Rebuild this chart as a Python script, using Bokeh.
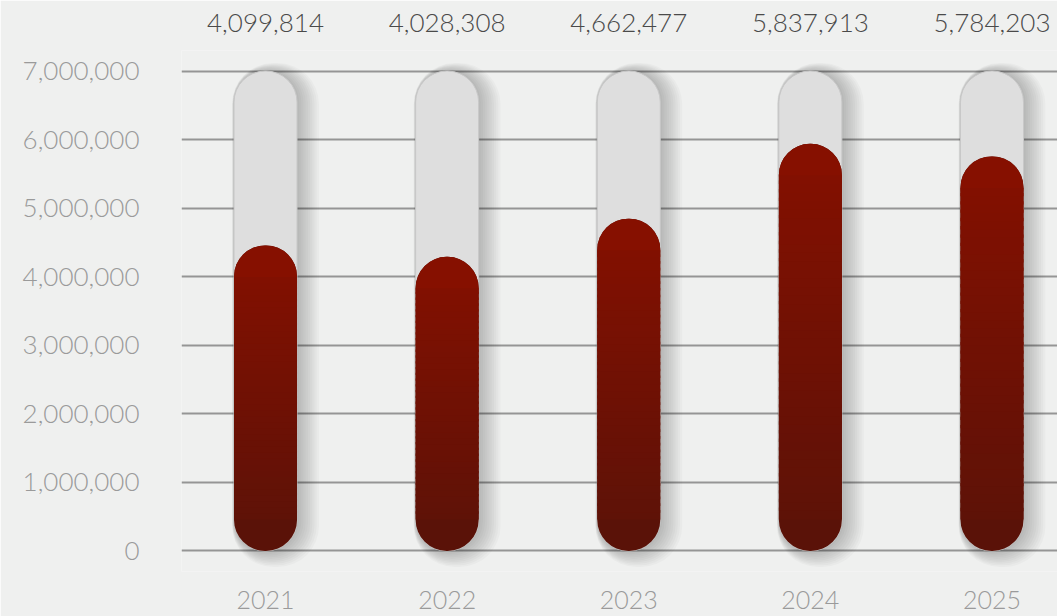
from bokeh.plotting import figure
from bokeh.models import Range1d, FixedTicker, NumeralTickFormatter, LinearAxis
from bokeh.embed import file_html
from bokeh.resources import INLINE

# ---- data ----
years = ["2021", "2022", "2023", "2024", "2025"]
totals = [4099814, 4028308, 4662477, 5837913, 5784203]
# tops of the red capsules
bar_levels = [4456000, 4290000, 4846000, 5939000, 5754000]
y_ticks = [0, 1000000, 2000000, 3000000, 4000000, 5000000, 6000000, 7000000]
y_max = 7000000

# ---- layout ----
W, H = 1057, 616
B_LEFT, B_RIGHT, B_TOP, B_BOTTOM = 181, 0, 50, 45
Y0, Y1 = -300000, 7300000
X0, X1 = -0.4626, 4.3607
BG = "#eff0ef"
FONT_LIGHT = "Lato Light, Lato"
FONT = "Lato"

p = figure(width=W, height=H, output_backend="svg", toolbar_location=None,
           x_range=Range1d(X0, X1), y_range=Range1d(Y0, Y1),
           min_border_left=B_LEFT, min_border_right=B_RIGHT,
           min_border_top=B_TOP, min_border_bottom=B_BOTTOM,
           x_axis_location=None, y_axis_location="left")
p.background_fill_color = BG
p.border_fill_color = BG
p.outline_line_color = None
p.xgrid.visible = False

frame_w = W - B_LEFT - B_RIGHT
frame_h = H - B_TOP - B_BOTTOM
px_x = frame_w / (X1 - X0)   # pixels per x unit
px_y = frame_h / (Y1 - Y0)   # pixels per y unit

bar_px = 63
bw = bar_px / px_x
rad = 31
r_d = 31.5 / px_y

xs = list(range(len(years)))

# ---- y axis / grid ----
yax = p.yaxis[0]
yax.ticker = FixedTicker(ticks=y_ticks)
yax.formatter = NumeralTickFormatter(format="0,0")
yax.axis_line_color = None
yax.major_tick_line_color = None
yax.minor_tick_line_color = None
yax.major_label_standoff = 36
yax.major_label_text_font = FONT_LIGHT
yax.major_label_text_font_size = "26px"
yax.major_label_text_color = "#9a9a9a"
p.ygrid.ticker = FixedTicker(ticks=y_ticks)
p.ygrid.grid_line_color = "#959595"
p.ygrid.grid_line_width = 2

# ---- x axes (years below, totals above) ----
def make_xaxis(labels, font, color, size, standoff):
    ax = LinearAxis(ticker=FixedTicker(ticks=xs),
                    major_label_overrides={i: lab for i, lab in zip(xs, labels)})
    ax.axis_line_color = None
    ax.major_tick_line_color = None
    ax.minor_tick_line_color = None
    ax.major_label_text_font = font
    ax.major_label_text_font_size = size
    ax.major_label_text_color = color
    ax.major_label_standoff = standoff
    return ax

p.add_layout(make_xaxis(years, FONT_LIGHT, "#9a9a9a", "25px", 13), "below")
p.add_layout(make_xaxis([f"{v:,}" for v in totals], FONT_LIGHT, "#4a4a4a", "26px", 13), "above")

# ---- shadows ----
n_sh = 10
for j in range(1, n_sh + 1):
    left_ext = 0.2 * j / px_x
    right_ext = 2.2 * j / px_x
    p.vbar(x=[x + (right_ext - left_ext) / 2 for x in xs],
           width=bw + left_ext + right_ext,
           top=y_max + 0.8 * j / px_y, bottom=-1.6 * j / px_y,
           border_radius=rad + j, fill_color="black", fill_alpha=0.022,
           line_color=None)

# ---- gray capsules ----
p.vbar(x=xs, width=bw, top=y_max, bottom=0, border_radius=rad,
       fill_color="#dedede", line_color="#c8c8c8", line_width=1)

# ---- red capsules with vertical gradient ----
c_top = (134, 16, 0)
c_bot = (90, 18, 8)

def mix(t):
    return "#%02x%02x%02x" % tuple(int(round(b + (a - b) * t)) for a, b in zip(c_top, c_bot))

p.vbar(x=xs, width=bw, top=bar_levels, bottom=0, border_radius=rad,
       fill_color=mix(0.0), line_color=None)
p.vbar(x=xs, width=bw, top=bar_levels, bottom=[v - 2 * r_d for v in bar_levels],
       border_radius=rad, fill_color=mix(1.0), line_color=None)

N = 40
sx, stop, sbot, scol = [], [], [], []
for x, v in zip(xs, bar_levels):
    lo, hi = r_d, v - r_d
    step = (hi - lo) / N
    for k in range(N):
        b = lo + k * step
        t = b + step * 1.4 if k < N - 1 else hi
        sx.append(x)
        sbot.append(b)
        stop.append(t)
        scol.append(mix((b + step / 2) / v))
p.vbar(x=sx, width=bw, top=stop, bottom=sbot, fill_color=scol, line_color=None)

open("out.html", "w").write(file_html(p, INLINE))
